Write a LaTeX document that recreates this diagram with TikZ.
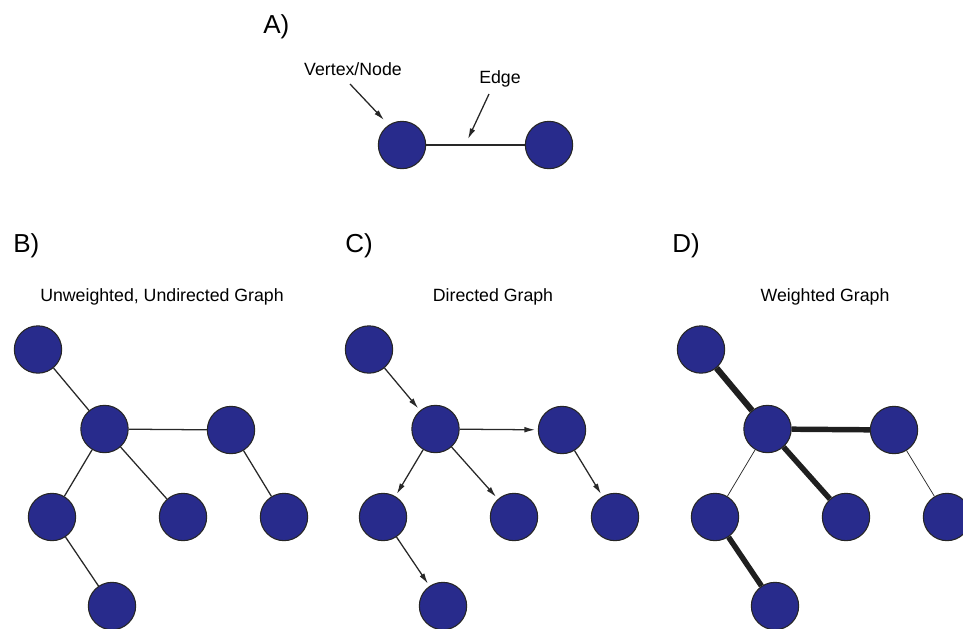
\documentclass[tikz,border=0pt]{standalone}
\usepackage{fontspec}
\setmainfont{Liberation Sans}
\usetikzlibrary{arrows.meta}
\definecolor{nodeblue}{RGB}{40,43,140}
\definecolor{edgegray}{RGB}{40,40,40}
\begin{document}
\begin{tikzpicture}[x=0.75pt,y=-0.75pt,
  vert/.style={circle,draw=black!85,line width=0.8pt,fill=nodeblue,
    minimum size=35.5pt,inner sep=0pt},
  edge/.style={draw=edgegray,line width=0.95pt},
  thinedge/.style={draw=edgegray,line width=0.55pt},
  heavy/.style={draw=black!88,line width=4.1pt},
  arc/.style={edge,-{Latex[length=8pt,width=4.2pt]},shorten >=2pt},
  pointer/.style={draw=black!85,line width=0.95pt,-{Latex[length=8pt,width=4.2pt]}},
  panel/.style={font=\fontsize{19.5}{23}\selectfont,anchor=base west,inner sep=0pt},
  caption/.style={font=\fontsize{13.3}{16}\selectfont,anchor=base,inner sep=0pt}]
\useasboundingbox (0,0) rectangle (963,628);
\clip (0,0) rectangle (963,628);

% ---- A) the parts of a graph ----
\node[panel] (la) at (263,33) {A)};
\node[vert] (a1) at (402,145) {};
\node[vert] (a2) at (549,145) {};
\draw[edge] (a1) -- (a2);
\node[caption] (lvert) at (353,75) {Vertex/Node};
\node[caption] (ledge) at (500,83) {Edge};
\coordinate (vtail) at (350,84);
\coordinate (vtip) at (384,120);
\coordinate (etail) at (489,94);
\coordinate (etip) at (468,139);
\draw[pointer] (vtail) -- (vtip);
\draw[pointer] (etail) -- (etip);

% ---- B) unweighted, undirected ----
\node[panel] (lb) at (13,252) {B)};
\node[caption] (tb) at (162,301) {Unweighted, Undirected Graph};
\begin{scope}
\node[vert] (b1) at (38,349.5) {};
\node[vert] (b2) at (104.5,429) {};
\node[vert] (b3) at (231,430) {};
\node[vert] (b4) at (52,517) {};
\node[vert] (b5) at (183,517) {};
\node[vert] (b6) at (284,517) {};
\node[vert] (b7) at (112,606) {};
\draw[edge] (b1) -- (b2);
\draw[edge] (b2) -- (b3);
\draw[edge] (b2) -- (b4);
\draw[edge] (b2) -- (b5);
\draw[edge] (b3) -- (b6);
\draw[edge] (b4) -- (b7);
\end{scope}

% ---- C) directed ----
\node[panel] (lc) at (345,252) {C)};
\node[caption] (tc) at (493,301) {Directed Graph};
\begin{scope}[xshift=331*0.75pt]
\node[vert] (c1) at (38,349.5) {};
\node[vert] (c2) at (104.5,429) {};
\node[vert] (c3) at (231,430) {};
\node[vert] (c4) at (52,517) {};
\node[vert] (c5) at (183,517) {};
\node[vert] (c6) at (284,517) {};
\node[vert] (c7) at (112,606) {};
\draw[arc] (c1) -- (c2);
\draw[arc] (c2) -- (c3);
\draw[arc] (c2) -- (c4);
\draw[arc] (c2) -- (c5);
\draw[arc] (c3) -- (c6);
\draw[arc] (c4) -- (c7);
\end{scope}

% ---- D) weighted ----
\node[panel] (ld) at (672,252) {D)};
\node[caption] (td) at (825,301) {Weighted Graph};
\begin{scope}[xshift=663*0.75pt]
\node[vert] (d1) at (38,349.5) {};
\node[vert] (d2) at (104.5,429) {};
\node[vert] (d3) at (231,430) {};
\node[vert] (d4) at (52,517) {};
\node[vert] (d5) at (183,517) {};
\node[vert] (d6) at (284,517) {};
\node[vert] (d7) at (112,606) {};
\draw[heavy,line width=4.6pt] (d1) -- (d2);
\draw[heavy] (d2) -- (d3);
\draw[thinedge] (d2) -- (d4);
\draw[heavy] (d2) -- (d5);
\draw[thinedge] (d3) -- (d6);
\draw[heavy] (d4) -- (d7);
\end{scope}
\end{tikzpicture}
\end{document}
